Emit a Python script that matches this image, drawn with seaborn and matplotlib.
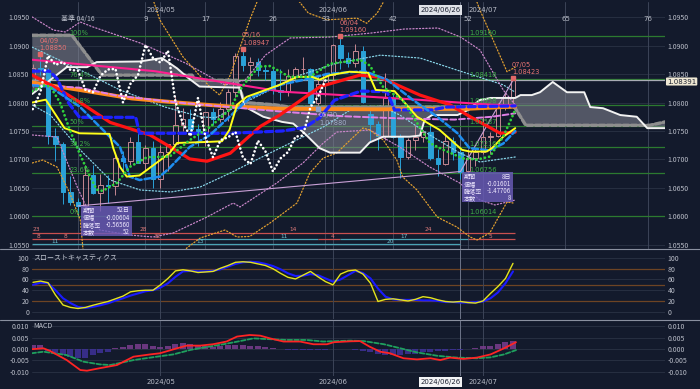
import matplotlib
matplotlib.use("Agg")
import matplotlib.pyplot as plt
import seaborn as sns
import numpy as np
from matplotlib.patches import Rectangle, Polygon
from matplotlib.lines import Line2D

# ---------------- data ----------------
bar_index = list(range(-6, 59))
opens = [1.0837, 1.0860, 1.0857, 1.0742, 1.0727, 1.0643, 1.0625, 1.0619, 1.0672, 1.0642,
         1.0656, 1.0654, 1.0702, 1.0698, 1.0730, 1.0694, 1.0720, 1.0665, 1.0714, 1.0727,
         1.0761, 1.0771, 1.0754, 1.0748, 1.0783, 1.0771, 1.0789, 1.0819, 1.0882, 1.0866,
         1.0871, 1.0857, 1.0856, 1.0822, 1.0818, 1.0847, 1.0858, 1.0859, 1.0800, 1.0833,
         1.0848, 1.0901, 1.0878, 1.0870, 1.0891, 1.0780, 1.0763, 1.0741, 1.0808, 1.0739,
         1.0704, 1.0734, 1.0739, 1.0748, 1.0703, 1.0692, 1.0733, 1.0714, 1.0679, 1.0702,
         1.0713, 1.0740, 1.0742, 1.0792, 1.0810]
highs = [1.0867, 1.08850, 1.0861, 1.0756, 1.0730, 1.0671, 1.0633, 1.0690, 1.0690, 1.0675,
         1.0672, 1.0712, 1.0715, 1.0740, 1.0754, 1.0725, 1.0733, 1.0725, 1.0728, 1.0812,
         1.0790, 1.0788, 1.0762, 1.0784, 1.0790, 1.0801, 1.0823, 1.0887, 1.08947, 1.0880,
         1.0878, 1.0866, 1.0862, 1.0858, 1.0858, 1.0863, 1.0880, 1.0860, 1.0848, 1.0852,
         1.0902, 1.09160, 1.0889, 1.0902, 1.0899, 1.0795, 1.0768, 1.0852, 1.0815, 1.0745,
         1.0738, 1.0761, 1.0752, 1.0760, 1.0718, 1.0745, 1.0740, 1.0718, 1.0718, 1.0720,
         1.0776, 1.0748, 1.0799, 1.0816, 1.08423]
lows = [1.0827, 1.0849, 1.0728, 1.0698, 1.0622, 1.0621, 1.06014, 1.0615, 1.0640, 1.0610,
        1.0624, 1.0638, 1.0675, 1.0690, 1.0693, 1.0680, 1.0650, 1.0650, 1.0680, 1.0724,
        1.0750, 1.0744, 1.0724, 1.0724, 1.0760, 1.0765, 1.0767, 1.0810, 1.0855, 1.0838,
        1.0846, 1.0840, 1.0815, 1.0805, 1.0812, 1.0842, 1.0850, 1.0790, 1.07880, 1.0811,
        1.0835, 1.0859, 1.0863, 1.0863, 1.0800, 1.0732, 1.0716, 1.0735, 1.0738, 1.0668,
        1.0700, 1.0716, 1.0730, 1.0699, 1.0671, 1.0690, 1.0699, 1.0666, 1.0677, 1.0689,
        1.0710, 1.0709, 1.0740, 1.0787, 1.0800]
closes = [1.0860, 1.0857, 1.0742, 1.0727, 1.0643, 1.0625, 1.06185, 1.0672, 1.0642, 1.0656,
          1.0654, 1.0702, 1.0698, 1.0730, 1.0694, 1.0720, 1.0665, 1.0714, 1.0727, 1.0761,
          1.0771, 1.0754, 1.0748, 1.0783, 1.0771, 1.0789, 1.0819, 1.0882, 1.0866, 1.0871,
          1.0857, 1.0856, 1.0822, 1.0818, 1.0847, 1.0858, 1.0859, 1.0800, 1.0833, 1.0848,
          1.0901, 1.0878, 1.0870, 1.0891, 1.0801, 1.0763, 1.0741, 1.0808, 1.0739, 1.0704,
          1.0734, 1.0739, 1.0748, 1.0703, 1.0692, 1.0733, 1.0714, 1.06789, 1.0702, 1.0713,
          1.0740, 1.0742, 1.0792, 1.0810, 1.08391]
chikou_shift = 25

# moving averages / ichimoku lines (bar index, price)
orange_x = [-6.1, 0.2, 7.2, 13.2, 20.2, 27.2, 40, 52, 58.3]
orange_y = [1.0835, 1.0822, 1.0807, 1.0800, 1.0793, 1.0789, 1.0788, 1.0789, 1.0793]
pink_x = [-6.1, 10.2, 27.2, 35.2, 45.2, 55.2, 58.3]
pink_y = [1.0875, 1.0855, 1.0819, 1.0813, 1.0805, 1.0796, 1.0795]
violet_x = [-6.1, 0.2, 5.2, 13.2, 27.2, 35.2, 43.2, 50.2, 55.2, 58.3]
violet_y = [1.0831, 1.0826, 1.0812, 1.0800, 1.0784, 1.0776, 1.0772, 1.0770, 1.0775, 1.0781]
red_x = [-6.1, -2.4, 0.3, 4.3, 9.6, 12.3, 14.9, 17.2, 20.3, 24.3, 26.9, 32.3, 37.6, 40.3,
         45.6, 49.6, 52.3, 56.3, 58.3]
red_y = [1.0848, 1.0822, 1.0800, 1.0765, 1.0743, 1.0722, 1.0701, 1.0697, 1.0711, 1.0758,
         1.0778, 1.0828, 1.0848, 1.0844, 1.0813, 1.0796, 1.0775, 1.0746, 1.0748]
kijun_x = [-6.1, -3.8, -2.8, -1.3, 0.2, 7.7, 8.2, 20.2, 27.2, 30.2, 32.2, 34.2, 37.7, 41.2,
           42.2, 47.2, 49.2, 58.3]
kijun_y = [1.0855, 1.0855, 1.0842, 1.0800, 1.0774, 1.0774, 1.0746, 1.0746, 1.0750, 1.0756,
           1.0773, 1.0804, 1.0820, 1.0819, 1.0787, 1.0787, 1.0792, 1.0794]
lblue_x = [-6.1, -3.8, 0.2, 5.6, 6.9, 8.2, 10.9, 12.2, 14.9, 17.6, 20.2, 22.9, 26.9, 30.2,
           33.2, 38.2, 41.2, 44.7, 47.9, 50.6, 52.2, 54.9, 56.7, 58.3]
lblue_y = [1.0830, 1.0828, 1.0793, 1.0722, 1.0670, 1.0664, 1.0670, 1.0685, 1.0722, 1.0743,
           1.0775, 1.0808, 1.0831, 1.0840, 1.0850, 1.0855, 1.0840, 1.0804, 1.0775, 1.0746,
           1.0720, 1.0716, 1.0728, 1.0750]
tenkan_x = [-6.1, -4.3, -1.8, 0.2, 4.2, 4.7, 5.6, 6.5, 8.2, 12.2, 13.2, 17.6, 19.2, 20.2,
            21.2, 22.5, 26.9, 29.2, 31.2, 32.2, 33.6, 36.2, 38.7, 39.7, 42.2, 45.2, 48.2,
            51.2, 52.2, 54.5, 55.2, 56.7, 58.3]
tenkan_y = [1.0800, 1.0805, 1.0755, 1.0746, 1.0745, 1.0720, 1.0687, 1.0670, 1.0672, 1.0711,
            1.0729, 1.0731, 1.0732, 1.0752, 1.0796, 1.0810, 1.0831, 1.0845, 1.0845, 1.0840,
            1.0848, 1.0854, 1.0852, 1.0822, 1.0820, 1.0775, 1.0752, 1.0717, 1.0714, 1.0714,
            1.0720, 1.0740, 1.0755]
green_x = [-6.1, -4.5, -3.7, -2.4, -1.1, 0.2, 1.6, 2.5, 3.3, 5.2, 6.9, 9.2, 12.2, 14.9, 17.6,
           20.2, 21.6, 22.9, 24.2, 25.6, 28.2, 30.9, 33.6, 37.6, 38.9, 40.7, 43.3, 46.9, 48.7,
           51.3, 53.2, 54.9, 56.7, 58.3]
green_y = [1.0820, 1.0830, 1.0828, 1.0800, 1.0752, 1.0711, 1.0670, 1.0647, 1.0645, 1.0659,
           1.0687, 1.0704, 1.0705, 1.0734, 1.0757, 1.0787, 1.0822, 1.0845, 1.0863, 1.0864,
           1.0845, 1.0845, 1.0868, 1.0875, 1.0865, 1.0827, 1.0804, 1.0729, 1.0717, 1.0702,
           1.0700, 1.0705, 1.0740, 1.0787]
spanA_x = [-6.1, -1.5, 1.2, 2.5, 8.2, 11.2, 13.2, 14.7, 16.2, 21.6, 22.2, 24.7, 27.2, 28.7,
           30.2, 32.2, 33.6, 37.6, 38.9, 40.7, 44.2, 45.6, 46.2, 47.2, 50.6, 52.2, 53.5, 55,
           58.3, 59, 60.5, 61.6, 63.3, 65.2, 67.5, 68.3, 70, 72.3, 74.5, 75.9, 78.3]
spanA_y = [1.0815, 1.0862, 1.0862, 1.0871, 1.0872, 1.0878, 1.0860, 1.0843, 1.0828, 1.0826,
           1.0793, 1.0775, 1.0766, 1.0763, 1.0746, 1.0720, 1.0712, 1.0712, 1.0730, 1.0740,
           1.0740, 1.0742, 1.0769, 1.0778, 1.0778, 1.0788, 1.0804, 1.0808, 1.0808, 1.0813,
           1.0813, 1.0818, 1.0836, 1.0818, 1.0818, 1.0792, 1.0790, 1.0778, 1.0775, 1.0755,
           1.0755]
spanB_x = [-6.1, -0.8, 2.5, 3.2, 15.2, 15.7, 21.2, 22.2, 26.2, 28.2, 58.2, 59.7, 76.2, 78.3]
spanB_y = [1.0918, 1.0918, 1.0860, 1.0848, 1.0848, 1.0839, 1.0839, 1.0800, 1.0796, 1.0792,
           1.0792, 1.0760, 1.0760, 1.0766]

# bands (dotted)
cyan_up_x = [-6.1, 0.3, 5.6, 11.6, 16.3, 18.3, 21.6, 25.6, 29.6, 34.5, 40.3, 45.6, 50.5, 56.7, 58.3]
cyan_up_y = [1.0897, 1.0857, 1.0822, 1.0792, 1.0775, 1.0773, 1.0796, 1.0822, 1.0848, 1.0869,
             1.0883, 1.0878, 1.0857, 1.0831, 1.0818]
cyan_lo_x = [-6.1, -3.7, 0.3, 4.3, 8.3, 12.4, 16.3, 20.3, 25.6, 32.7, 36.3, 40.3, 42.9, 46.9,
             50.9, 53.6, 58.3]
cyan_lo_y = [1.07956, 1.07781, 1.07167, 1.06640, 1.06465, 1.06430, 1.06518, 1.06763, 1.07114,
             1.07570, 1.07868, 1.07939, 1.07781, 1.07430, 1.07114, 1.06956, 1.07044]
pinkb_up_x = [-6.1, -3.3, -1.7, 0.3, 2, 8.3, 14.3, 19.6, 22.3, 25, 28.3, 33.7, 39.1, 43.5, 48,
              51, 53.6, 56.7, 58.3]
pinkb_up_y = [1.0950, 1.09272, 1.09237, 1.09412, 1.09325, 1.09044, 1.08693, 1.08307, 1.08395,
              1.08833, 1.09132, 1.09149, 1.09219, 1.09289, 1.09307, 1.09149, 1.08921, 1.08219,
              1.07956]
pinkb_lo_x = [-6.1, -2.8, -0.1, 1.6, 2.9, 6.9, 10, 12.7, 17.2, 20.7, 21.6, 26.5, 30, 32.7,
              34.5, 38.9, 42.9, 46.9, 50.9, 53.6, 55.6, 58.3]
pinkb_lo_y = [1.07430, 1.07395, 1.06518, 1.06026, 1.05763, 1.05675, 1.05640, 1.05711, 1.05991,
              1.06237, 1.06167, 1.06588, 1.06939, 1.07289, 1.07482, 1.07518, 1.07219, 1.06868,
              1.06588, 1.06289, 1.06202, 1.06289]
orng_up1_x = [9.6, 10.9, 14.0, 17.6, 18.9, 20.3, 22.9, 24.5]
orng_up1_y = [1.0997, 1.0945, 1.0880, 1.0827, 1.0813, 1.0848, 1.0945, 1.0997]
orng_up2_x = [28.3, 30.7, 33.2, 37.2, 38.5, 39.9, 41.6]
orng_up2_y = [1.0997, 1.0957, 1.0945, 1.0948, 1.0939, 1.0957, 1.0997]
orng_up3_x = [52.6, 53.6, 57.2, 58.3]
orng_up3_y = [1.0997, 1.0962, 1.0854, 1.0862]
orng_lo1_x = [-6.1, -4.7, -2.8, -1.1, 0.3, 0.8]
orng_lo1_y = [1.06939, 1.06991, 1.06868, 1.06412, 1.05939, 1.05237]
orng_lo2_x = [13.6, 14.5, 16.3, 19.6, 21.2, 22.9, 25.6, 29.2, 30.9, 32.7, 34.5, 36.3, 38.0,
              38.9, 40.7, 42.5, 43.3, 45.2, 47.9, 50.5, 52.3, 53.2, 54.9, 57.2, 58.0]
orng_lo2_y = [1.05237, 1.05447, 1.05623, 1.05763, 1.05640, 1.05650, 1.05886, 1.06237, 1.06763,
              1.07026, 1.07114, 1.07342, 1.07553, 1.07518, 1.07342, 1.06991, 1.06693, 1.06465,
              1.05991, 1.05816, 1.05640, 1.05588, 1.05711, 1.06254, 1.06237]

# fibonacci
fib_pct = ["100%", "76.4%", "61.8%", "50%", "38.2%", "23.6%", "0%"]
fib_lvl = [1.09160, 1.08418, 1.07958, 1.07587, 1.07216, 1.06756, 1.06014]
last_price = 1.08391

# highs / lows labels
hi_dates = ["04/09", "05/16", "06/04", "07/05"]
hi_idx = [-5, 22, 35, 58]
hi_vals = [1.08850, 1.08947, 1.09160, 1.08423]
lo_dates = ["05/30"]
lo_idx = [32]
lo_vals = [1.07880]

# measuring tool
tl_x = [0, 51, 58]
tl_y = [1.06185, 1.06789, 1.08391]
box_rows = ["期間", "値幅", "騰落率", "本数"]
box1_vals = ["52日", "-0.00604", "-0.56560", "52"]
box2_vals = ["8日", "-0.01601", "-1.47706", "8"]

# time-count rows
row1_labels = ["23", "28", "14", "24"]
row1_pos = [-5.5, 8.7, 28.7, 46.7]
row2_labels = ["8", "8", "32", "11", "4", "17", "5"]
row2_pos = [-5.6, -1.9, 10.3, 27.2, 33.6, 43.2, 54.7]
row2_red = [True, True, True, False, True, False, True]
row3_labels = ["11", "13", "20"]
row3_pos = [-3.1, 16.3, 41.6]

# time axis
count_idx = [9, 17, 26, 33, 42, 52, 65, 76]
base_idx = 0
base_label = "基準 04/16"
month_idx = [11, 34, 54]
month_lbl = ["2024/05", "2024/06", "2024/07"]
cross_idx = 51
cross_lbl = "2024/06/26"

# stochastics
stoch_k = [54.7, 57, 54, 31, 12.5, 8, 6, 8, 12, 15.6, 19, 24, 29, 37, 39, 40, 40, 50, 62, 76,
           78, 76, 73, 74, 75, 81, 86, 92, 93, 92, 89, 86, 80, 71.5, 64, 61, 68, 75, 65, 56,
           50, 70, 76, 77.6, 70, 53, 19, 23, 24, 22, 20, 23, 28, 26, 22, 19, 18, 19, 17, 16,
           20, 34, 47, 62, 90]
stoch_d = [50, 54, 53, 40, 25, 16, 9, 7, 9, 12, 15.6, 20.6, 25, 30, 34, 38, 40, 45, 53, 65,
           75, 76, 75, 75, 76, 79, 84, 89, 92, 93, 92, 89, 85, 79, 71.5, 66.5, 67, 70, 68, 62,
           56, 60, 68, 76, 72, 62, 43, 28, 23, 22, 22, 22, 21, 21, 20, 18, 18, 17, 17, 18,
           19, 25, 36, 53, 75]

# MACD
macd_x = [-6.2, -4.6, -3.7, -1.5, 0.3, 1.2, 2.9, 5.2, 7.4, 9.6, 10.9, 13.2, 14.5, 16.3, 18.0,
          19.8, 21.2, 22.9, 24.3, 25.6, 27.4, 29.6, 31.4, 33.2, 34.1, 36.3, 37.6, 38.9, 40.3,
          41.6, 43.4, 45.2, 47.0, 48.3, 49.6, 51.4, 53.2, 55.0, 56.8, 58.4]
macd_v = [-0.0001, 0.0003, -0.0009, -0.0049, -0.0093, -0.0096, -0.0085, -0.0071, -0.0034,
          -0.0024, -0.0019, 0.0003, 0.0015, 0.0015, 0.0021, 0.0033, 0.0055, 0.0062, 0.0059,
          0.0047, 0.0033, 0.0033, 0.0021, 0.0021, 0.0030, 0.0034, 0.0035, 0.0010, -0.0012,
          -0.0019, -0.0041, -0.0046, -0.0041, -0.0049, -0.0038, -0.0044, -0.0038, -0.0024,
          0.0003, 0.0030]
sig_x = [-6.2, -4.6, -1.5, 0.7, 2.9, 4.3, 7.4, 10.5, 12.7, 15.0, 17.2, 19.4, 21.6, 23.4, 25.2,
         27.8, 30.5, 32.7, 36.3, 38.1, 40.8, 43.0, 45.2, 47.9, 50.5, 53.2, 55.0, 56.8, 58.4]
sig_v = [-0.0019, -0.0012, -0.0027, -0.0056, -0.0068, -0.0071, -0.0049, -0.0034, -0.0024,
         -0.0004, 0.0009, 0.0021, 0.0035, 0.0047, 0.0044, 0.0040, 0.0040, 0.0033, 0.0037,
         0.0035, 0.0021, 0.0003, -0.0015, -0.0030, -0.0038, -0.0041, -0.0037, -0.0024, -0.0005]
macd_hist = [0.0018, 0.0018, -0.0009, -0.0019, -0.0027, -0.0034, -0.0041, -0.0038, -0.0027,
             -0.0019, -0.0012, 0.0005, 0.0010, 0.0018, 0.0022, 0.0022, 0.0015, 0.0010, 0.0012,
             0.0022, 0.0025, 0.0020, 0.0018, 0.0015, 0.0010, 0.0012, 0.0018, 0.0018, 0.0016,
             0.0015, 0.0012, 0.0008, 0.0004, -0.0002, -0.0005, -0.0006, -0.0006, -0.0006,
             -0.0005, -0.0004, 0.0002, 0.0002, 0.0000, -0.0005, -0.0010, -0.0015, -0.0020,
             -0.0025, -0.0027, -0.0025, -0.0022, -0.0020, -0.0015, -0.0012, -0.0010, -0.0008,
             -0.0006, -0.0004, -0.0002, 0.0005, 0.0012, 0.0015, 0.0022, 0.0030, 0.0035]

# ---------------- style ----------------
sns.set_theme(style="dark")
plt.rcParams['font.family'] = ['Noto Sans CJK JP', 'DejaVu Sans']
plt.rcParams['axes.unicode_minus'] = False

BG = '#131a2c'
GRID = '#2a3245'
VLINE = '#3c4458'
TXT = '#b9bdc8'
UP = '#c48792'
DN = '#2aa2d8'
NUMFONT = ['DejaVu Sans']
W, H = 700, 389

fig = plt.figure(figsize=(7, 3.89), dpi=100, facecolor=BG)


def px_axes(top, bottom, left=32, right=665):
    return fig.add_axes([left / W, 1 - bottom / H, (right - left) / W, (bottom - top) / H])


ax = px_axes(2, 249)
ax_st = px_axes(250, 319)
ax_m = px_axes(320, 376)
XL = (-6.133, 78.267)
for a in (ax, ax_st, ax_m):
    a.set_facecolor(BG)
    for s in a.spines.values():
        s.set_visible(False)
    a.set_xlim(*XL)
    a.grid(False)
    a.set_xticks([])
    a.set_xlabel('')
    a.set_ylabel('')
    a.yaxis.set_tick_params(length=0, labelsize=5, labelcolor=TXT, labelleft=True,
                            labelright=True, pad=2)


def sline(a, xs, ys, color, lw, ls='-', z=3, alpha=1.0):
    sns.lineplot(x=list(xs), y=list(ys), ax=a, color=color, linewidth=lw, linestyle=ls,
                 estimator=None, sort=False, legend=False, zorder=z, alpha=alpha,
                 dash_capstyle='round', solid_capstyle='round')


# ---------------- main panel ----------------
ax.set_ylim(1.054298, 1.097632)
main_ticks = [1.0550, 1.0600, 1.0650, 1.0700, 1.0750, 1.0800, 1.0850, 1.0900, 1.0950]
ax.set_yticks(main_ticks)
ax.set_yticklabels([f"{v:.4f}" for v in main_ticks])
for v in main_ticks:
    ax.axhline(v, color=GRID, lw=0.6, zorder=0)
for i in count_idx + [base_idx]:
    ax.axvline(i, color=VLINE, lw=0.7, zorder=0.5)
for i in month_idx:
    for a in (ax, ax_st, ax_m):
        a.axvline(i, color=VLINE, lw=0.7, zorder=0.5)
for a in (ax, ax_st, ax_m):
    a.axvline(cross_idx, color='#6d7488', lw=0.7, zorder=0.6)

# fibonacci
for p, lv in zip(fib_pct, fib_lvl):
    ax.axhline(lv, color='#2c7a30', lw=0.9, zorder=1)
    ax.text(-1.1, lv + 0.00012, p, color='#3fae49', fontsize=4.8, ha='left', va='bottom',
            zorder=6, family=NUMFONT)
    ax.text(52.2, lv + 0.00012, f"{lv:.5f}", color='#3fae49', fontsize=4.8, ha='left',
            va='bottom', zorder=6, family=NUMFONT)
ax.axhline(last_price, color='#a9acb4', lw=0.9, zorder=1.2)

# ichimoku cloud
cloud = Polygon(list(zip(spanA_x, spanA_y)) + list(zip(spanB_x[::-1], spanB_y[::-1])),
                closed=True, facecolor='#868995', alpha=0.55, edgecolor='none', zorder=1.5)
ax.add_patch(cloud)

# candles
up_mask = [c >= o for o, c in zip(opens, closes)]
body_lo = [min(o, c) for o, c in zip(opens, closes)]
body_hi = [max(o, c) for o, c in zip(opens, closes)]
body_h = [max(bh - bl, 0.00004) for bh, bl in zip(body_hi, body_lo)]
cols = [UP if u else DN for u in up_mask]
ax.vlines(bar_index, body_hi, highs, colors=cols, lw=0.7, zorder=2)
ax.vlines(bar_index, lows, body_lo, colors=cols, lw=0.7, zorder=2)
ax.bar(bar_index, body_h, bottom=body_lo, width=0.6,
       color=['none' if u else DN for u in up_mask], edgecolor=cols, linewidth=0.7, zorder=2.1)

# bands
dot = (0, (1, 1.6))
sline(ax, cyan_up_x, cyan_up_y, '#86d3e6', 0.9, dot, 3)
sline(ax, cyan_lo_x, cyan_lo_y, '#86d3e6', 0.9, dot, 3)
sline(ax, pinkb_up_x, pinkb_up_y, '#c885c8', 0.9, dot, 3)
sline(ax, pinkb_lo_x, pinkb_lo_y, '#c885c8', 0.9, dot, 3)
for xs, ys in [(orng_up1_x, orng_up1_y), (orng_up2_x, orng_up2_y), (orng_up3_x, orng_up3_y),
               (orng_lo1_x, orng_lo1_y), (orng_lo2_x, orng_lo2_y)]:
    sline(ax, xs, ys, '#e2a030', 0.9, dot, 3)

# trendlines (measure tool)
sline(ax, tl_x, tl_y, '#c9a0d6', 0.8, '-', 3.2)

# moving averages and ichimoku
sline(ax, spanB_x, spanB_y, '#8e8e8e', 2.4, (0, (1.6, 0.8)), 3.3)
sline(ax, spanA_x, spanA_y, '#f2f2f2', 1.4, '-', 3.4)
sline(ax, orange_x, orange_y, '#ff8a1c', 2.8, '-', 3.5)
sline(ax, pink_x, pink_y, '#ff1f8f', 1.5, '-', 3.6)
sline(ax, violet_x, violet_y, '#e07fe6', 1.4, (0, (3, 1.5)), 3.6)
sline(ax, red_x, red_y, '#ff1414', 2.3, '-', 3.7)
sline(ax, kijun_x, kijun_y, '#1d22ff', 2.3, (0, (2.2, 1.2)), 3.8)
sline(ax, lblue_x, lblue_y, '#1e8ef0', 1.8, (0, (2.5, 1.2)), 3.9)
sline(ax, tenkan_x, tenkan_y, '#ffff1a', 1.4, '-', 4.0)
sline(ax, green_x, green_y, '#2fd13c', 2.0, (0, (0.05, 1.5)), 4.1)
chik_x = [i - chikou_shift for i in bar_index if i >= 18]
chik_y = [c for i, c in zip(bar_index, closes) if i >= 18]
sline(ax, chik_x, chik_y, '#ffffff', 1.9, (0, (0.05, 1.5)), 4.2)

# high / low labels
for d, i, v in zip(hi_dates, hi_idx, hi_vals):
    ax.plot([i], [v], marker='s', ms=2.5, color='#e06868', zorder=6)
    ax.annotate(f"{d}\n{v:.5f}", (i, v), xytext=(-1, 3), textcoords='offset pixels',
                fontsize=4.8, color='#e87474', ha='left', va='bottom', linespacing=1.25,
                zorder=6, family=NUMFONT)
for d, i, v in zip(lo_dates, lo_idx, lo_vals):
    ax.plot([i], [v], marker='s', ms=2.5, color='#8fa0c8', zorder=6)
    ax.annotate(f"{d}\n{v:.5f}", (i, v), xytext=(1, -3), textcoords='offset pixels',
                fontsize=4.8, color='#a4afcc', ha='left', va='top', linespacing=1.25,
                zorder=6, family=NUMFONT)

# info boxes
PX = 1 / 5700.0
for (bx, by), vals in [((tl_x[0] + 0.35, tl_y[0]), box1_vals),
                       ((tl_x[1] + 0.15, tl_y[1] - 0.00012), box2_vals)]:
    ax.add_patch(Rectangle((bx, by - 30 * PX), 6.8, 30 * PX, facecolor='#6a5bb8', alpha=0.82,
                           edgecolor='none', zorder=7))
    for k, (lab, val) in enumerate(zip(box_rows, vals)):
        yy = by - (4.5 + 7.2 * k) * PX
        ax.text(bx + 0.25, yy, lab, fontsize=4.4, color='#efe8ff', ha='left', va='center', zorder=8)
        ax.text(bx + 6.6, yy, val, fontsize=4.4, color='#efe8ff', ha='right', va='center', zorder=8)

# time-count rows
r1, r2, r3 = 1.05716, 1.05605, 1.05509
RED_C, TEAL_C = '#c9504f', '#4aa3b5'
ax.hlines(r1, XL[0], 58.3, color=RED_C, lw=0.9, zorder=2.5)
for a0, a1, rc in [(XL[0], 16, RED_C), (16, 32, TEAL_C), (32, 35, RED_C), (35, 52, TEAL_C),
                   (52, 58.3, RED_C)]:
    ax.hlines(r2, a0, a1, color=rc, lw=0.9, zorder=2.5)
ax.hlines(r3, XL[0], 51, color=TEAL_C, lw=0.9, zorder=2.5)
for lab, p in zip(row1_labels, row1_pos):
    ax.text(p, r1 + 0.00004, lab, fontsize=4.2, color='#e07b7b', ha='center', va='bottom',
            zorder=6, family=NUMFONT)
for lab, p, isred in zip(row2_labels, row2_pos, row2_red):
    ax.text(p + 0.3, r2 + 0.00004, lab, fontsize=4.2, color=('#e07b7b' if isred else '#72c4d4'),
            ha='center', va='bottom', zorder=6, family=NUMFONT)
for lab, p in zip(row3_labels, row3_pos):
    ax.text(p, r3 + 0.00004, lab, fontsize=4.2, color='#72c4d4', ha='center', va='bottom',
            zorder=6, family=NUMFONT)

# top labels
tr = ax.get_xaxis_transform()
for i in count_idx:
    ax.text(i, 0.933, str(i), transform=tr, fontsize=5, color=TXT, ha='center', va='center',
            family=NUMFONT)
ax.text(base_idx, 0.933, base_label, transform=tr, fontsize=5, color=TXT, ha='center', va='center')
for i, lab in zip(month_idx, month_lbl):
    ax.text(i, 0.967, lab, transform=tr, fontsize=5, color=TXT, ha='center', va='center',
            family=NUMFONT)
ax.text(cross_idx, 0.967, cross_lbl, transform=tr, fontsize=5, color='#1b2030', ha='right',
        va='center', zorder=9, family=NUMFONT,
        bbox=dict(boxstyle='square,pad=0.25', fc='#dfe2e8', ec='none'))
# last price tag
fig.text(667 / W, 1 - 81.5 / H, f"{last_price:.5f}", fontsize=5, color='#1b2030', ha='left',
         va='center', family=NUMFONT,
         bbox=dict(boxstyle='round,pad=0.15', fc='#efe8d4', ec='none'))

# ---------------- stochastics ----------------
ax_st.set_ylim(-13.6, 114.9)
st_ticks = [0, 20, 40, 60, 80, 100]
ax_st.set_yticks(st_ticks)
ax_st.set_yticklabels([str(t) for t in st_ticks])
for t in [0, 40, 60, 100]:
    ax_st.axhline(t, color=GRID, lw=0.6, zorder=0)
for t in [20, 50, 80]:
    ax_st.axhline(t, color='#6e4424', lw=0.9, zorder=0.4)
sline(ax_st, bar_index, stoch_d, '#1a1aff', 1.5, '-', 3)
sline(ax_st, bar_index, stoch_k, '#e4e41c', 1.0, '-', 3.2)
ax_st.text(0.002, 0.89, "スローストキャスティクス", transform=ax_st.transAxes, fontsize=5,
           color='#c3c7d2', ha='left', va='center')

# ---------------- MACD ----------------
ax_m.set_ylim(-0.011947, 0.012832)
m_ticks = [-0.010, -0.005, 0.0, 0.005, 0.010]
ax_m.set_yticks(m_ticks)
ax_m.set_yticklabels([f"{t:.3f}" for t in m_ticks])
for t in m_ticks:
    ax_m.axhline(t, color=GRID, lw=0.6, zorder=0)
ax_m.bar(bar_index, macd_hist, width=0.8,
         color=['#7a3d8e' if h >= 0 else '#3e3198' for h in macd_hist], alpha=0.85,
         edgecolor='none', linewidth=0, zorder=2)
sline(ax_m, sig_x, sig_v, '#1fa05e', 1.3, (0, (2.5, 1.2)), 3)
sline(ax_m, macd_x, macd_v, '#ff2424', 1.3, '-', 3.2)
ax_m.text(0.002, 0.89, "MACD", transform=ax_m.transAxes, fontsize=5, color='#c3c7d2',
          ha='left', va='center')

# bottom date labels
trm = ax_m.get_xaxis_transform()
for i, lab in zip(month_idx, month_lbl):
    ax_m.text(i, -0.11, lab, transform=trm, fontsize=5, color=TXT, ha='center', va='center',
              clip_on=False, family=NUMFONT)
ax_m.text(cross_idx, -0.11, cross_lbl, transform=trm, fontsize=5, color='#1b2030', ha='right',
          va='center', clip_on=False, zorder=9, family=NUMFONT,
          bbox=dict(boxstyle='square,pad=0.25', fc='#f2f3f5', ec='none'))

# panel separators
for yy in (249.5, 319.5):
    fig.add_artist(Line2D([0, 1], [1 - yy / H, 1 - yy / H], color='#8a90a0', lw=0.8))

fig.savefig("out.png", dpi=100, facecolor=BG)
